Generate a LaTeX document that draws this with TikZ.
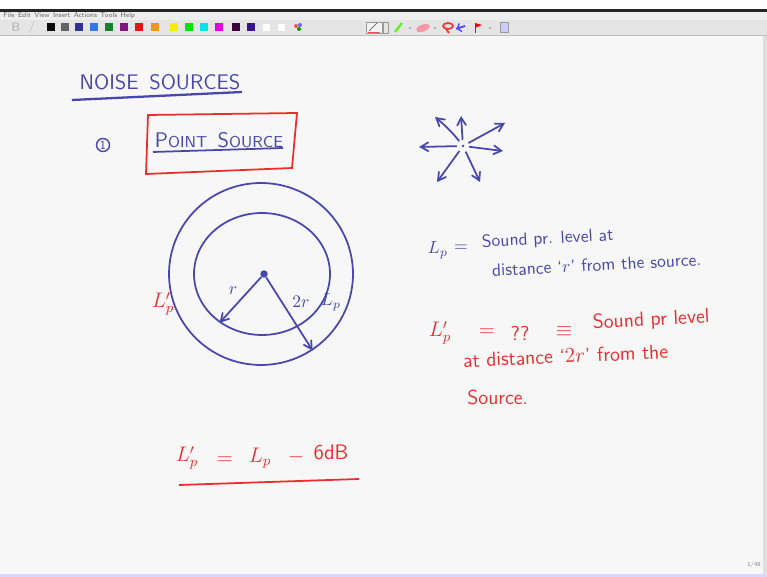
\documentclass[tikz,border=0pt]{standalone}
\usetikzlibrary{shapes.geometric, arrows}
\definecolor{inkblue}{RGB}{72,72,172}
\definecolor{inkred}{RGB}{234,46,46}
\definecolor{pagebg}{RGB}{247,247,248}
\definecolor{menubg}{RGB}{238,238,238}
\definecolor{toolbg}{RGB}{229,229,229}
\definecolor{swA}{RGB}{10,10,10}
\definecolor{swB}{RGB}{100,100,100}
\definecolor{swC}{RGB}{50,50,150}
\definecolor{swD}{RGB}{50,120,230}
\definecolor{swE}{RGB}{20,130,40}
\definecolor{swF}{RGB}{130,20,130}
\definecolor{swG}{RGB}{230,20,20}
\definecolor{swH}{RGB}{240,150,30}
\definecolor{swI}{RGB}{240,240,0}
\definecolor{swJ}{RGB}{0,230,0}
\definecolor{swK}{RGB}{0,230,230}
\definecolor{swL}{RGB}{230,0,230}
\definecolor{swM}{RGB}{60,0,60}
\definecolor{swN}{RGB}{60,20,140}
\tikzstyle{bluetext} = [
    text=inkblue,
    inner sep=0pt,
    font=\sffamily\fontsize{10}{12}\selectfont
]
\tikzstyle{redtext} = [
    text=inkred,
    inner sep=0pt,
    font=\sffamily\fontsize{11.5}{13}\selectfont
]
\tikzstyle{ring} = [
    ellipse,
    inner sep=0pt,
    draw=inkblue,
    line width=1pt
]
\tikzstyle{swatch} = [
    rectangle,
    inner sep=0pt,
    minimum width=0.16cm,
    minimum height=0.16cm
]
\tikzstyle{arrow} = [inkblue, line width=1pt, ->, >=angle 60]
\tikzstyle{ray} = [arrow, shorten <=2.5pt]
\begin{document}
\begin{tikzpicture}[x=0.02cm, y=-0.02cm]
\useasboundingbox (0,0) rectangle (767,577);

% window and toolbar
\fill[pagebg] (0,0) rectangle (767,577);
\fill[white] (0,0) rectangle (767,9);
\fill[black!85] (0,9) rectangle (767,12);
\fill[menubg] (0,12) rectangle (767,20);
\fill[toolbg] (0,20) rectangle (767,35);
\draw[black!25] (0,35.5) -- (767,35.5);
\fill[black!12] (763,36) rectangle (767,577);
\fill[blue!15] (0,574) rectangle (767,577);
\node (menu) [anchor=west, inner sep=0pt, text=black!60,
  font=\sffamily\fontsize{4}{4}\selectfont] at (3,16)
{File\enspace Edit\enspace View\enspace Insert\enspace Actions\enspace Tools\enspace Help};
\node (bold) [text=black!25, font=\sffamily\bfseries\fontsize{7}{7}\selectfont] at (16,27) {B};
\node (slash) [text=black!25, font=\sffamily\fontsize{7}{7}\selectfont] at (32,27) {/};
\foreach \x/\c in {51/swA, 65/swB, 79/swC, 94/swD, 109/swE, 124/swF, 139/swG,
  155/swH, 174/swI, 189/swJ, 204/swK, 219/swL, 236/swM, 251/swN}
  \node [swatch, fill=\c] at (\x,27) {};
\foreach \x in {266, 281}
  \node [swatch, fill=white, draw=black!10] at (\x,27) {};
\fill[red!70] (296,26) circle (2);
\fill[blue!60] (300,25) circle (2);
\fill[green!60!black] (299,29) circle (2);
\draw[black!40, fill=black!5] (366,22) rectangle (382,33);
\draw[black!70] (369,31) -- (377,23);
\draw[red!70] (368,32) -- (380,32);
\draw[black!40] (383,22) rectangle (388,33);
\draw[green!70!yellow, line width=1.2pt] (395,32) -- (402,23);
\foreach \x in {410, 435, 490}
  \fill[black!50] (\x,28) circle (0.9);
\fill[pink!80!purple, rotate around={20:(423,28)}] (423,28) ellipse (7 and 3.5);
\draw[red!80, line width=1pt] (448,26) ellipse (5 and 3);
\draw[red!80, line width=1pt] (446,29) -- (449,33);
\draw[blue!70, line width=1pt, ->] (465,26) -- (456,29);
\draw[black!70] (475,23) -- (475,33);
\fill[red] (475,23) -- (482,25) -- (475,28) -- cycle;
\draw[black!40, fill=blue!20] (500,22) rectangle (508,32);

% heading
\node (title) [bluetext, font=\sffamily\fontsize{12}{14}\selectfont] at (160,82)
{NOISE\enspace SOURCES};
\draw[inkblue, line width=1.3pt] (72,100) -- (242,92);

\node (one) [circle, draw=inkblue, line width=0.8pt, minimum size=0.26cm,
  bluetext, font=\sffamily\fontsize{7}{7}\selectfont] at (103,145) {1};
\node (point) [bluetext, font=\sffamily\fontsize{12}{14}\selectfont] at (219,140)
{P{\fontsize{9}{10}\selectfont OINT}\enspace S{\fontsize{9}{10}\selectfont OURCE}};
\draw[inkblue, line width=1pt] (153,152) -- (283,148);
\draw[inkred, line width=1pt] (148,115) -- (297,113) -- (292,168) -- (146,174) -- cycle;

% spherical spreading
\node (src) [circle, fill=inkblue, inner sep=0.6pt] at (463,146) {};
\coordinate (tipW) at (419,147);
\coordinate (tipNW) at (435,117);
\coordinate (tipN) at (461,116);
\coordinate (tipNE) at (505,123);
\coordinate (tipE) at (503,151);
\coordinate (tipSW) at (437,182);
\coordinate (tipS) at (480,182);
\draw [ray] (src) -- (tipW);
\draw [ray] (src) to[bend right=6] (tipNW);
\draw [ray] (src) -- (tipN);
\draw [ray] (src) -- (tipNE);
\draw [ray] (src) -- (tipE);
\draw [ray] (src) -- (tipSW);
\draw [ray] (src) -- (tipS);

% circles of radius r and 2r
\node (outer) [ring, minimum width=3.68cm, minimum height=3.64cm] at (261,274) {};
\node (inner) [ring, minimum width=2.72cm, minimum height=2.44cm] at (262,274) {};
\node (centre) [circle, fill=inkblue, inner sep=1.5pt] at (264,274) {};
\draw [arrow] (centre) -- (inner.229);
\draw [arrow] (centre) -- (outer.-56);
\node (rlabel) [bluetext] at (233,291) {$r$};
\node (tworlabel) [bluetext] at (301,302) {$2r$};
\node (lplabel) [bluetext] at (331,302) {$L_p$};
\node (lpring) [redtext] at (163,304) {$L_p'$};

% definitions
\node (lp) [bluetext] at (438,250) {$L_p$};
\node (lpeq) [bluetext] at (461,248) {$=$};
\node (def1) [bluetext, anchor=south west, rotate=3] at (482,251) {Sound pr. level at};
\node (def2) [bluetext, anchor=south west, rotate=3] at (492,277) {distance `$r$' from the source.};

\node (lpp) [redtext] at (440,333) {$L_p'$};
\node (lppeq) [redtext] at (487,333) {$=$};
\node (qq) [redtext] at (520,333) {??};
\node (equiv) [redtext] at (564,332) {$\equiv$};
\node (red1) [redtext, anchor=south west, rotate=3] at (593,333) {Sound pr level};
\node (red2) [redtext, anchor=south west, rotate=2.5] at (463,368) {at distance `$2r$' from the};
\node (red3) [redtext, anchor=south west] at (467,405) {Source.};

% result
\node (res1) [redtext, font=\sffamily\fontsize{12}{14}\selectfont] at (187,458) {$L_p'$};
\node (res2) [redtext, font=\sffamily\fontsize{12}{14}\selectfont] at (225,461) {$=$};
\node (res3) [redtext, font=\sffamily\fontsize{12}{14}\selectfont] at (260,458) {$L_p$};
\node (res4) [redtext, font=\sffamily\fontsize{12}{14}\selectfont] at (296,457) {$-$};
\node (res5) [redtext, font=\sffamily\fontsize{12}{14}\selectfont] at (331,452) {6dB};
\draw[inkred, line width=1pt] (179,485) -- (359,479);

\node (page) [text=black!50, font=\sffamily\fontsize{3.5}{4}\selectfont] at (754,565) {1/48};
\end{tikzpicture}
\end{document}
